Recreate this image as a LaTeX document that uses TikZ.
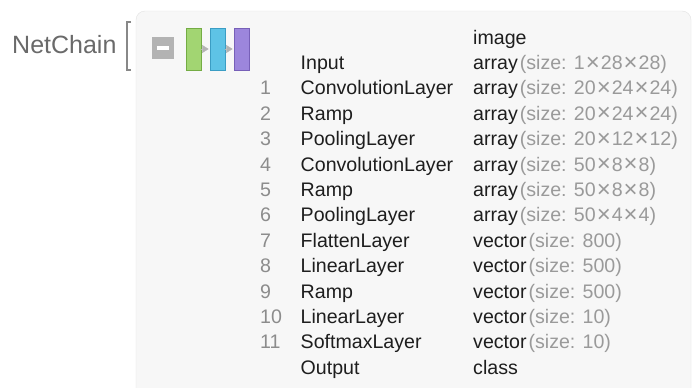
\documentclass[tikz,border=0pt]{standalone}
\usepackage{fontspec}
\setmainfont{Liberation Sans}
\usetikzlibrary{calc}
\usetikzlibrary{arrows.meta}
\usepackage{xcolor}
\definecolor{boxfill}{HTML}{F7F7F7}
\definecolor{boxline}{HTML}{E2E2E2}
\definecolor{txtdark}{HTML}{1E1E1E}
\definecolor{numgray}{HTML}{8C8C8C}
\definecolor{sizegray}{HTML}{9A9A9A}
\definecolor{titlegray}{HTML}{6A6A6A}
\definecolor{convgreen}{HTML}{A2D572}
\definecolor{convgreenD}{HTML}{74AC44}
\definecolor{rampblue}{HTML}{5EC3E6}
\definecolor{rampblueD}{HTML}{3B9DC4}
\definecolor{poolpurple}{HTML}{9C86DC}
\definecolor{poolpurpleD}{HTML}{7760B8}
\definecolor{icongray}{HTML}{B3B3B3}
\tikzset{
  cell/.style={anchor=base west,inner sep=0pt,font=\fontsize{19.6}{20}\selectfont,text=txtdark},
  numcell/.style={cell,text=numgray},
  blk/.style={minimum width=15pt,minimum height=42pt,inner sep=0pt,line width=0.8pt},
  tri/.style={draw=icongray,line width=0.3pt,shorten >=1pt,-{Triangle[length=6.5pt,width=8pt]},icongray}
}
\newcommand{\sz}[1]{{\color{sizegray}\kern2pt(size: #1)}}
\newcommand{\by}{\kern1pt{\fontsize{24}{20}\selectfont\raisebox{-0.6pt}{×}}\kern1pt}

\begin{document}
\begin{tikzpicture}[x=1pt,y=-1pt]
\clip (0,0) rectangle (696,388);
\fill[white] (0,0) rectangle (696,388);
\node[anchor=base west,inner sep=0pt,font=\fontsize{25}{25}\selectfont,text=titlegray] (title) at (12,53) {NetChain};
\coordinate (BT) at (131,22);
\coordinate (BB) at (131,70);
\draw[titlegray!80,line width=1.2pt] (BT) -- ++(-4,0) -- ($(BB)+(-4,0)$) -- (BB);
\draw[boxline,fill=boxfill,rounded corners=9pt] (136,11) rectangle (691,430);
% icon
\node[fill=icongray,minimum size=22pt,inner sep=0pt] (minus) at (163,48) {};
\draw[white,line width=3.5pt] ($(minus.west)+(5,0)$) -- ($(minus.east)+(-5,0)$);
\node[blk,fill=convgreen,draw=convgreenD] (conv) at (193.5,49) {};
\node[blk,fill=rampblue,draw=rampblueD] (ramp) at (217.5,49) {};
\node[blk,fill=poolpurple,draw=poolpurpleD] (pool) at (241.5,49) {};
\draw[tri] (conv.east) -- (ramp.west);
\draw[tri] (ramp.east) -- (pool.west);
% rows
\node[cell] (typ0) at (473,44) {image};
\node[cell] (lay0) at (300.5,69.4) {Input};
\node[cell] (typ1) at (473,69.4) {array\sz{1\by28\by28}};
\node[numcell] (num1) at (260,94.8) {1};
\node[cell] (lay1) at (300.5,94.8) {ConvolutionLayer};
\node[cell] (typ2) at (473,94.8) {array\sz{20\by24\by24}};
\node[numcell] (num2) at (260,120.2) {2};
\node[cell] (lay2) at (300.5,120.2) {Ramp};
\node[cell] (typ3) at (473,120.2) {array\sz{20\by24\by24}};
\node[numcell] (num3) at (260,145.6) {3};
\node[cell] (lay3) at (300.5,145.6) {PoolingLayer};
\node[cell] (typ4) at (473,145.6) {array\sz{20\by12\by12}};
\node[numcell] (num4) at (260,171.0) {4};
\node[cell] (lay4) at (300.5,171.0) {ConvolutionLayer};
\node[cell] (typ5) at (473,171.0) {array\sz{50\by8\by8}};
\node[numcell] (num5) at (260,196.4) {5};
\node[cell] (lay5) at (300.5,196.4) {Ramp};
\node[cell] (typ6) at (473,196.4) {array\sz{50\by8\by8}};
\node[numcell] (num6) at (260,221.8) {6};
\node[cell] (lay6) at (300.5,221.8) {PoolingLayer};
\node[cell] (typ7) at (473,221.8) {array\sz{50\by4\by4}};
\node[numcell] (num7) at (260,247.2) {7};
\node[cell] (lay7) at (300.5,247.2) {FlattenLayer};
\node[cell] (typ8) at (473,247.2) {vector\sz{800}};
\node[numcell] (num8) at (260,272.6) {8};
\node[cell] (lay8) at (300.5,272.6) {LinearLayer};
\node[cell] (typ9) at (473,272.6) {vector\sz{500}};
\node[numcell] (num9) at (260,298.0) {9};
\node[cell] (lay9) at (300.5,298.0) {Ramp};
\node[cell] (typ10) at (473,298.0) {vector\sz{500}};
\node[numcell] (num10) at (260,323.4) {10};
\node[cell] (lay10) at (300.5,323.4) {LinearLayer};
\node[cell] (typ11) at (473,323.4) {vector\sz{10}};
\node[numcell] (num11) at (260,348.8) {11};
\node[cell] (lay11) at (300.5,348.8) {SoftmaxLayer};
\node[cell] (typ12) at (473,348.8) {vector\sz{10}};
\node[cell] (lay12) at (300.5,374.2) {Output};
\node[cell] (typ13) at (473,374.2) {class};
\end{tikzpicture}
\end{document}
